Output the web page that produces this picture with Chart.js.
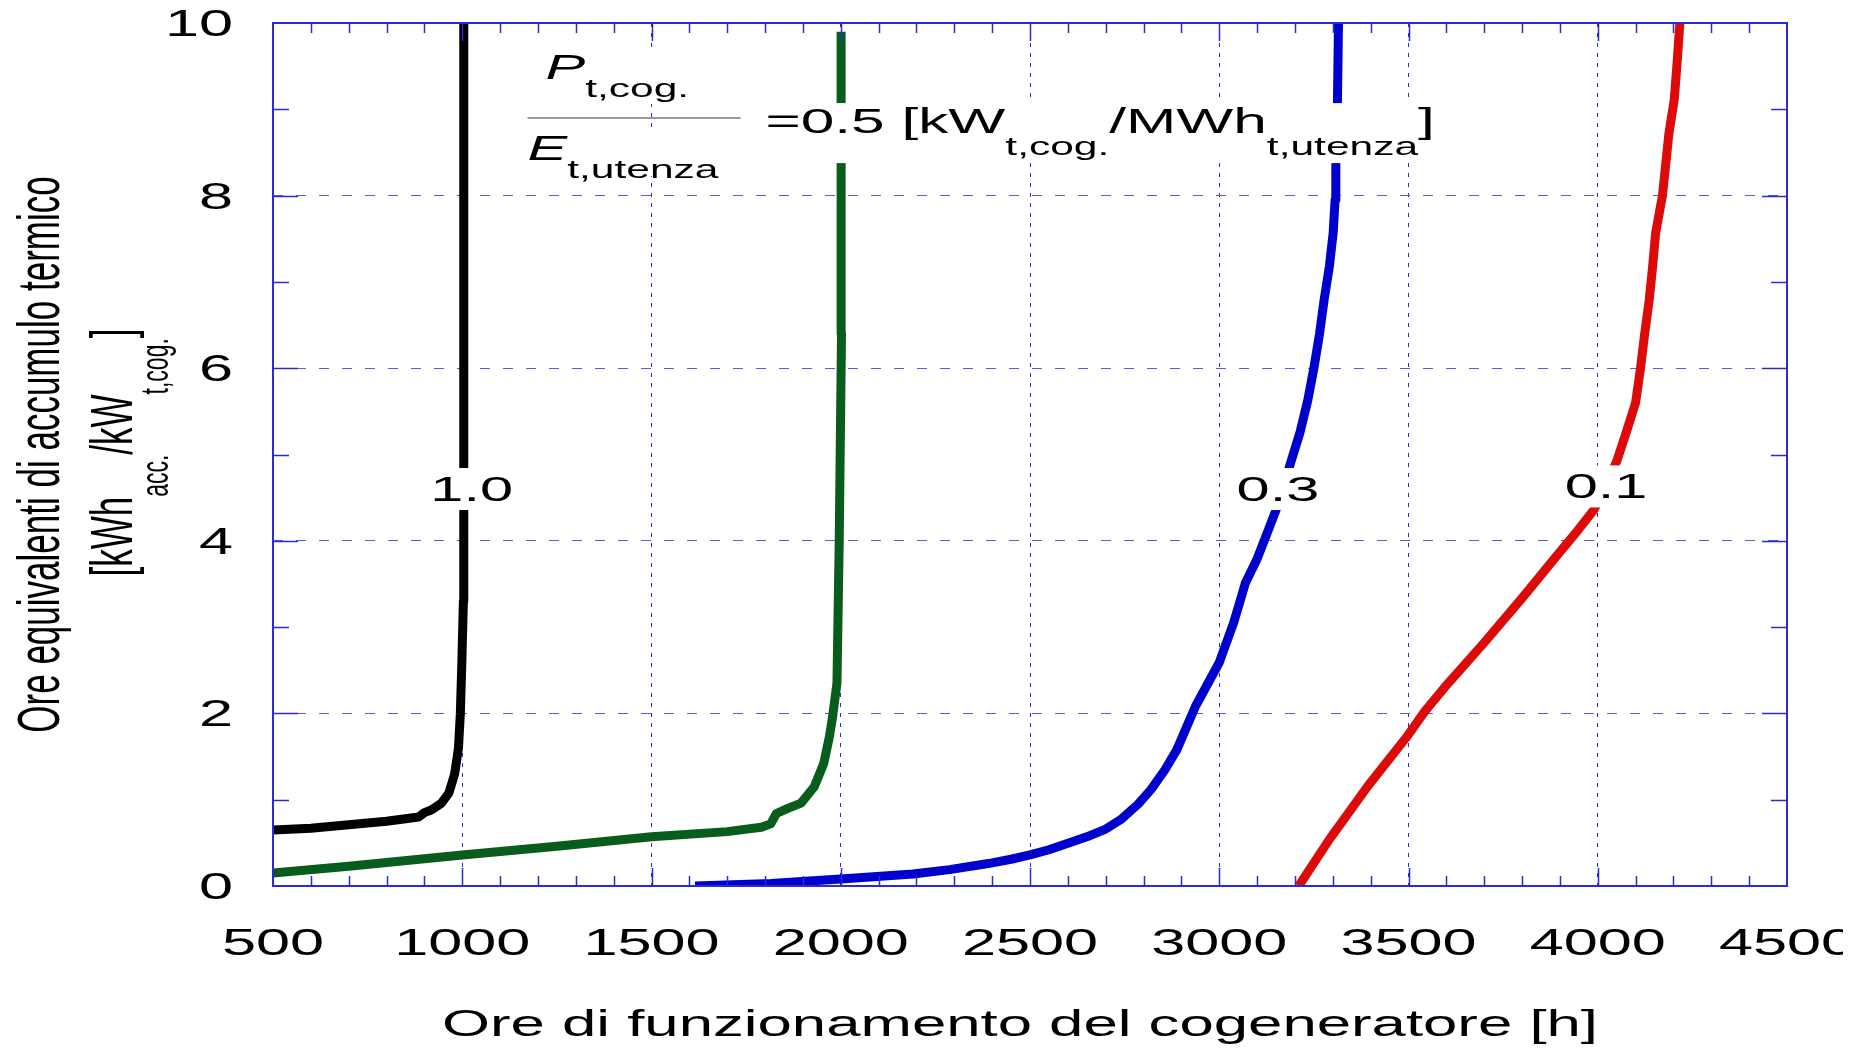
<!DOCTYPE html>
<html>
<head>
<meta charset="utf-8">
<script src="https://cdn.jsdelivr.net/npm/chart.js@4.4.1/dist/chart.umd.min.js"></script>
<style>
  html, body { margin: 0; padding: 0; background: #fff; }
  canvas { display: block; }
</style>
</head>
<body>
<canvas id="myChart" width="1862" height="1048"></canvas>
<script>
// P_t,cog / E_t,utenza = 1.0
var hours10 = [500, 600, 700, 800, 885, 900, 918, 945, 965, 980, 990, 995, 999, 1003, 1004, 1004];
var storage10 = [0.65, 0.67, 0.71, 0.75, 0.8, 0.85, 0.88, 0.96, 1.08, 1.3, 1.6, 2.0, 2.6, 3.3, 6.0, 10];

// 0.5
var hours05 = [500, 700, 1000, 1250, 1500, 1700, 1790, 1815, 1830, 1860, 1895, 1930, 1955, 1970, 1978, 1990, 1996, 2002, 2001];
var storage05 = [0.15, 0.23, 0.36, 0.46, 0.57, 0.63, 0.68, 0.72, 0.84, 0.9, 0.96, 1.15, 1.42, 1.73, 1.95, 2.35, 4.0, 6.4, 9.9];

// 0.3
var hours03 = [1615, 1816, 2000, 2191, 2287, 2390, 2450, 2500, 2550, 2610, 2650, 2700, 2740, 2786, 2820, 2857, 2888, 2937, 3000, 3038, 3059, 3069, 3099, 3130, 3160, 3187, 3213, 3234, 3250, 3265, 3277, 3291, 3301, 3306, 3308, 3312, 3315];
var storage03 = [0, 0.03, 0.08, 0.14, 0.19, 0.26, 0.31, 0.36, 0.42, 0.51, 0.57, 0.66, 0.77, 0.95, 1.12, 1.35, 1.58, 2.08, 2.59, 3.05, 3.36, 3.51, 3.78, 4.13, 4.47, 4.88, 5.25, 5.63, 6.0, 6.4, 6.79, 7.18, 7.57, 7.95, 8.34, 9.0, 10];

// 0.1
var hours01 = [3210, 3291, 3393, 3494, 3544, 3595, 3696, 3797, 3898, 3949, 3990, 4020, 4050, 4077, 4100, 4113, 4124, 4136, 4145, 4153, 4171, 4188, 4202, 4209, 4217];
var storage01 = [0, 0.54, 1.16, 1.72, 2.03, 2.3, 2.8, 3.32, 3.86, 4.13, 4.36, 4.62, 4.92, 5.28, 5.6, 6.0, 6.4, 6.79, 7.18, 7.57, 8.0, 8.72, 9.11, 9.5, 10];

var ratios = ['1.0', '0.5', '0.3', '0.1'];
var xTickLabels = ['500', '1000', '1500', '2000', '2500', '3000', '3500', '4000', '4500'];
var yTickLabels = ['0', '2', '4', '6', '8', '10'];

var xTitle = 'Ore di funzionamento del cogeneratore [h]';
var yTitle = 'Ore equivalenti di accumulo termico';

// where the ratio labels sit (data coords)
var labelSpots = [
    { text: '1.0', x: 1025, y: 4.6 },
    { text: '0.3', x: 3155, y: 4.6 },
    { text: '0.1', x: 4022, y: 4.63 }
];

const FONT = '"Liberation Sans", Arial, Helvetica, sans-serif';
const SX = 1.7; // lettering of the original is stretched sideways

const toPoints = (xs, ys) => xs.map((v, i) => ({ x: v, y: ys[i] }));

const setFont = (ctx, size, italic) => {
    ctx.font = (italic ? 'italic ' : '') + size + 'px ' + FONT;
};

// draw a run of text pieces, some as subscripts, starting at 0,0 (local coords)
const drawRuns = (ctx, runs, size, subSize, drop, measureOnly) => {
    var w = 0;
    runs.forEach(r => {
        setFont(ctx, r.sub ? subSize : size, r.italic);
        if (!measureOnly) ctx.fillText(r.t, w, r.sub ? drop : 0);
        w += ctx.measureText(r.t).width;
    });
    return w;
};

const textPlugin = {
    id: 'textPlugin',
    afterDraw(chart) {
        const { ctx, chartArea: a, scales: { x, y } } = chart;
        ctx.save();

        // ticks inside the frame
        ctx.strokeStyle = '#2a2ad8';
        ctx.lineWidth = 1.5;
        ctx.beginPath();
        for (let v = 600; v < 4500; v += 100) {
            const px = Math.round(x.getPixelForValue(v)) + 0.5;
            const len = v % 500 === 0 ? 18 : 10;
            ctx.moveTo(px, a.bottom); ctx.lineTo(px, a.bottom - len);
            ctx.moveTo(px, a.top); ctx.lineTo(px, a.top + len);
        }
        for (let v = 1; v < 10; v++) {
            const py = Math.round(y.getPixelForValue(v)) + 0.5;
            const len = v % 2 === 0 ? 25 : 16;
            ctx.moveTo(a.left, py); ctx.lineTo(a.left + len, py);
            ctx.moveTo(a.right, py); ctx.lineTo(a.right - len, py);
        }
        ctx.stroke();
        ctx.lineWidth = 2;
        ctx.strokeStyle = '#2a2ad8';
        ctx.strokeRect(a.left, a.top, a.right - a.left, a.bottom - a.top);

        ctx.fillStyle = '#000';
        ctx.textBaseline = 'alphabetic';

        // tick labels
        ctx.save();
        ctx.beginPath();
        ctx.rect(0, 0, 1843, chart.height);
        ctx.clip();
        setFont(ctx, 36);
        ctx.textAlign = 'center';
        xTickLabels.forEach(l => {
            ctx.save();
            ctx.translate(x.getPixelForValue(Number(l)), a.bottom + 69);
            ctx.scale(SX, 1);
            ctx.fillText(l, 0, 0);
            ctx.restore();
        });
        ctx.restore();
        setFont(ctx, 36);
        ctx.textAlign = 'right';
        yTickLabels.forEach(l => {
            ctx.save();
            ctx.translate(a.left - 40, y.getPixelForValue(Number(l)) + 13);
            ctx.scale(SX, 1);
            ctx.fillText(l, 0, 0);
            ctx.restore();
        });

        // x title
        ctx.save();
        ctx.translate((a.left + a.right) / 2 - 10, a.bottom + 150);
        ctx.scale(SX, 1);
        ctx.textAlign = 'center';
        setFont(ctx, 36.3);
        ctx.fillText(xTitle, 0, 0);
        ctx.restore();

        // y title, two lines
        const midY = (a.top + a.bottom) / 2;
        ctx.save();
        ctx.translate(59, midY);
        ctx.scale(SX, 1);
        ctx.rotate(-Math.PI / 2);
        ctx.textAlign = 'center';
        setFont(ctx, 35);
        ctx.fillText(yTitle, 0, 0);
        ctx.restore();

        const unitRuns = [
            { t: '[kWh' }, { t: 'acc.', sub: true }, { t: '/kW' }, { t: 't,cog.', sub: true }, { t: ']' }
        ];
        ctx.save();
        ctx.translate(132, midY - 2);
        ctx.scale(SX, 1);
        ctx.rotate(-Math.PI / 2);
        ctx.textAlign = 'left';
        const uw = drawRuns(ctx, unitRuns, 35, 23, 21, true);
        ctx.translate(-uw / 2, 0);
        drawRuns(ctx, unitRuns, 35, 23, 21);
        ctx.restore();

        // white patches behind the annotations
        ctx.fillStyle = '#fff';
        const boxes = [];
        labelSpots.forEach(s => {
            const cx = x.getPixelForValue(s.x), cy = y.getPixelForValue(s.y);
            setFont(ctx, 35);
            const w = ctx.measureText(s.text).width * SX;
            boxes.push([cx - w / 2 - 2, cy - 21, w + 4, 42]);
        });
        const fx = x.getPixelForValue(1220), fy = y.getPixelForValue(9.35);
        boxes.push([fx - 6, fy - 30, 150, 55]);
        boxes.push([fx - 24, fy + 51, 190, 46]);
        boxes.push([fx + 209, fy + 24, 685, 60]);
        boxes.forEach(b => ctx.fillRect(b[0], b[1], b[2], b[3]));

        ctx.fillStyle = '#000';
        ctx.textAlign = 'left';
        labelSpots.forEach(s => {
            const cx = x.getPixelForValue(s.x), cy = y.getPixelForValue(s.y);
            ctx.save();
            ctx.translate(cx, cy + 12);
            ctx.scale(SX, 1);
            ctx.textAlign = 'center';
            setFont(ctx, 35);
            ctx.fillText(s.text, 0, 0);
            ctx.restore();
        });

        // ratio formula
        ctx.save();
        ctx.translate(fx, fy);
        ctx.scale(SX, 1);
        drawRuns(ctx, [{ t: 'P', italic: true }, { t: 't,cog.', sub: true }], 35, 25, 18);
        ctx.restore();

        ctx.save();
        ctx.strokeStyle = '#9a9a9a';
        ctx.lineWidth = 2;
        ctx.beginPath();
        ctx.moveTo(fx - 18, fy + 39);
        ctx.lineTo(fx + 195, fy + 39);
        ctx.stroke();
        ctx.restore();

        ctx.save();
        ctx.translate(fx - 18, fy + 81);
        ctx.scale(SX, 1);
        drawRuns(ctx, [{ t: 'E', italic: true }, { t: 't,utenza', sub: true }], 35, 25, 18);
        ctx.restore();

        ctx.save();
        ctx.translate(fx + 220, fy + 54);
        ctx.scale(SX, 1);
        drawRuns(ctx, [
            { t: '=0.5 [kW' }, { t: 't,cog.', sub: true }, { t: '/MWh' }, { t: 't,utenza', sub: true }, { t: ']' }
        ], 35.5, 25, 22);
        ctx.restore();

        ctx.restore();
    }
};

var ctx = document.getElementById('myChart').getContext('2d');
var myChart = new Chart(ctx, {
    type: 'scatter',
    data: {
        datasets: [{
                label: ratios[0],
                data: toPoints(hours10, storage10),
                borderColor: '#000000',
                backgroundColor: '#000000'
            }, {
                label: ratios[1],
                data: toPoints(hours05, storage05),
                borderColor: '#085c1c',
                backgroundColor: '#085c1c'
            }, {
                label: ratios[2],
                data: toPoints(hours03, storage03),
                borderColor: '#0000cc',
                backgroundColor: '#0000cc'
            }, {
                label: ratios[3],
                data: toPoints(hours01, storage01),
                borderColor: '#dd0a0a',
                backgroundColor: '#dd0a0a'
            }]
    },
    options: {
        responsive: false,
        animation: false,
        devicePixelRatio: 1,
        layout: { padding: { left: 273, right: 75, top: 23, bottom: 162 } },
        elements: {
            point: { radius: 0, hoverRadius: 0 },
            line: { borderWidth: 9, tension: 0, borderJoinStyle: 'round', borderCapStyle: 'butt' }
        },
        datasets: { scatter: { showLine: true } },
        plugins: { legend: { display: false }, tooltip: { enabled: false } },
        scales: {
            x: {
                type: 'linear', min: 500, max: 4500, z: 1,
                ticks: { stepSize: 500, display: false },
                grid: { color: '#2a2ad6', lineWidth: 1, drawTicks: false },
                border: { display: false, dash: [4, 6] }
            },
            y: {
                type: 'linear', min: 0, max: 10, z: 1,
                ticks: { stepSize: 2, display: false },
                grid: { color: '#5a5ae6', lineWidth: 1, drawTicks: false },
                border: { display: false, dash: [10, 13] }
            }
        }
    },
    plugins: [textPlugin]
});
</script>
</body>
</html>
